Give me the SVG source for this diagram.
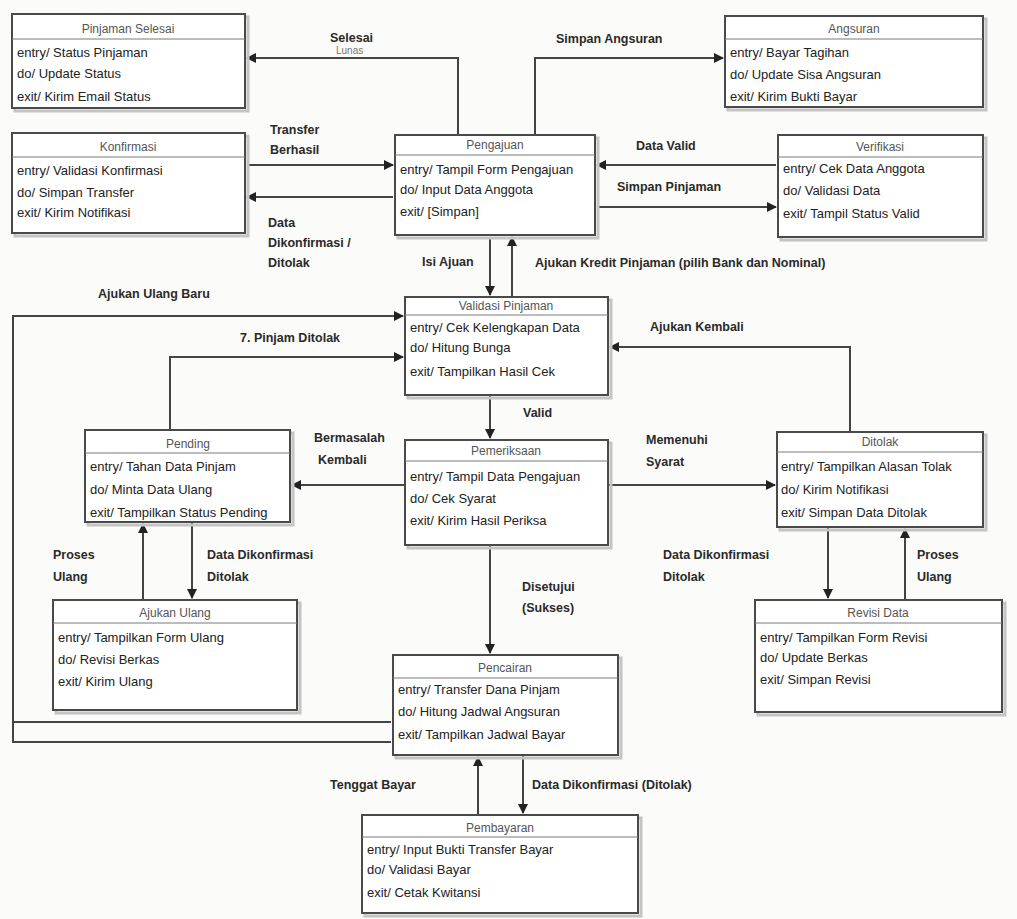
<svg xmlns="http://www.w3.org/2000/svg" width="1017" height="919" viewBox="0 0 1017 919">
  <style>
    .box { fill: #ffffff; stroke: #4a4a4a; stroke-width: 2; }
    .shadow { fill: none; stroke: #c4c4c4; stroke-width: 3; }
    .sep { stroke: #7a7a7a; stroke-width: 1.2; }
    .title { font-family: "Liberation Sans", Arial, sans-serif; font-size: 12px; fill: #555; text-anchor: middle; }
    .row { font-family: "Liberation Sans", Arial, sans-serif; font-size: 13px; fill: #222; }
    .lbl { font-family: "Liberation Sans", Arial, sans-serif; font-size: 12.5px; font-weight: bold; fill: #2a2a2a; }
    .edge { fill: none; stroke: #444; stroke-width: 2; marker-end: url(#arr); }
    .plain { fill: none; stroke: #444; stroke-width: 2; }
  </style>
  <defs>
    <marker id="arr" viewBox="0 0 10 10" refX="9" refY="5" markerWidth="5" markerHeight="5" orient="auto">
      <path d="M0,0 L10,5 L0,10 z" fill="#222"/>
    </marker>
  </defs>

  <rect x="0" y="0" width="1017" height="919" fill="#fbfbf9"/>

  <!-- connectors -->
  <g id="connectors">
    <path class="edge" d="M458,135 V58 H247"/>
    <path class="edge" d="M535,135 V58 H723"/>
    <path class="edge" d="M247,165 H393"/>
    <path class="edge" d="M393,197 H247"/>
    <path class="edge" d="M776,165 H597"/>
    <path class="edge" d="M597,207 H776"/>
    <path class="edge" d="M512,297 V237"/>
    <path class="edge" d="M490,237 V295"/>
    <path class="edge" d="M391,742 H13 V316 H403"/>
    <path class="plain" d="M391,722 H13"/>
    <path class="edge" d="M170,430 V357 H403"/>
    <path class="edge" d="M850,432 V347 H610"/>
    <path class="edge" d="M490,395 V438"/>
    <path class="edge" d="M405,485 H292"/>
    <path class="edge" d="M608,485 H775"/>
    <path class="edge" d="M192,522 V598"/>
    <path class="edge" d="M143,600 V524"/>
    <path class="edge" d="M828,527 V598"/>
    <path class="edge" d="M905,600 V529"/>
    <path class="edge" d="M490,545 V653"/>
    <path class="edge" d="M478,815 V757"/>
    <path class="edge" d="M523,755 V813"/>

    <text class="lbl" x="330" y="42">Selesai</text>
    <text class="lbl" x="336" y="54" style="font-size:10px;font-weight:normal;fill:#777">Lunas</text>
    <text class="lbl" x="556" y="43">Simpan Angsuran</text>
    <text class="lbl" x="270" y="134">Transfer</text>
    <text class="lbl" x="270" y="154">Berhasil</text>
    <text class="lbl" x="268" y="227">Data</text>
    <text class="lbl" x="268" y="247">Dikonfirmasi /</text>
    <text class="lbl" x="268" y="267">Ditolak</text>
    <text class="lbl" x="636" y="150">Data Valid</text>
    <text class="lbl" x="617" y="191">Simpan Pinjaman</text>
    <text class="lbl" x="422" y="266">Isi Ajuan</text>
    <text class="lbl" x="535" y="267">Ajukan Kredit Pinjaman (pilih Bank dan Nominal)</text>
    <text class="lbl" x="98" y="298">Ajukan Ulang Baru</text>
    <text class="lbl" x="240" y="342">7. Pinjam Ditolak</text>
    <text class="lbl" x="650" y="331">Ajukan Kembali</text>
    <text class="lbl" x="523" y="417">Valid</text>
    <text class="lbl" x="314" y="442">Bermasalah</text>
    <text class="lbl" x="318" y="464">Kembali</text>
    <text class="lbl" x="646" y="444">Memenuhi</text>
    <text class="lbl" x="646" y="466">Syarat</text>
    <text class="lbl" x="53" y="559">Proses</text>
    <text class="lbl" x="53" y="581">Ulang</text>
    <text class="lbl" x="207" y="559">Data Dikonfirmasi</text>
    <text class="lbl" x="207" y="581">Ditolak</text>
    <text class="lbl" x="663" y="559">Data Dikonfirmasi</text>
    <text class="lbl" x="663" y="581">Ditolak</text>
    <text class="lbl" x="917" y="559">Proses</text>
    <text class="lbl" x="917" y="581">Ulang</text>
    <text class="lbl" x="522" y="591">Disetujui</text>
    <text class="lbl" x="522" y="612">(Sukses)</text>
    <text class="lbl" x="330" y="789">Tenggat Bayar</text>
    <text class="lbl" x="532" y="789">Data Dikonfirmasi (Ditolak)</text>
  </g>

  <!-- states -->
  <g id="pinjaman-selesai">
    <rect class="shadow" x="15" y="17" width="233" height="94"/>
    <rect class="box" x="12" y="14" width="233" height="94"/>
    <text class="title" x="128" y="33">Pinjaman Selesai</text>
    <line class="sep" x1="12" y1="39" x2="245" y2="39"/>
    <text class="row" x="17" y="57">entry/ Status Pinjaman</text>
    <text class="row" x="17" y="78">do/ Update Status</text>
    <text class="row" x="17" y="101">exit/ Kirim Email Status</text>
  </g>

  <g id="konfirmasi">
    <rect class="shadow" x="15" y="136" width="233" height="100"/>
    <rect class="box" x="12" y="133" width="233" height="100"/>
    <text class="title" x="128" y="151">Konfirmasi</text>
    <line class="sep" x1="12" y1="157" x2="245" y2="157"/>
    <text class="row" x="17" y="175">entry/ Validasi Konfirmasi</text>
    <text class="row" x="17" y="197">do/ Simpan Transfer</text>
    <text class="row" x="17" y="217">exit/ Kirim Notifikasi</text>
  </g>

  <g id="angsuran">
    <rect class="shadow" x="728" y="19" width="258" height="91"/>
    <rect class="box" x="725" y="16" width="258" height="91"/>
    <text class="title" x="854" y="33">Angsuran</text>
    <line class="sep" x1="725" y1="39" x2="983" y2="39"/>
    <text class="row" x="730" y="57">entry/ Bayar Tagihan</text>
    <text class="row" x="730" y="79">do/ Update Sisa Angsuran</text>
    <text class="row" x="730" y="101">exit/ Kirim Bukti Bayar</text>
  </g>

  <g id="verifikasi">
    <rect class="shadow" x="781" y="138" width="205" height="102"/>
    <rect class="box" x="778" y="135" width="205" height="102"/>
    <text class="title" x="880" y="151">Verifikasi</text>
    <line class="sep" x1="778" y1="157" x2="983" y2="157"/>
    <text class="row" x="783" y="173">entry/ Cek Data Anggota</text>
    <text class="row" x="783" y="195">do/ Validasi Data</text>
    <text class="row" x="783" y="218">exit/ Tampil Status Valid</text>
  </g>

  <g id="pengajuan">
    <rect class="shadow" x="398" y="138" width="200" height="100"/>
    <rect class="box" x="395" y="135" width="200" height="100"/>
    <text class="title" x="495" y="149">Pengajuan</text>
    <line class="sep" x1="395" y1="155" x2="595" y2="155"/>
    <text class="row" x="400" y="174">entry/ Tampil Form Pengajuan</text>
    <text class="row" x="400" y="194">do/ Input Data Anggota</text>
    <text class="row" x="400" y="216">exit/ [Simpan]</text>
  </g>

  <g id="validasi-pinjaman">
    <rect class="shadow" x="408" y="300" width="203" height="98"/>
    <rect class="box" x="405" y="297" width="203" height="98"/>
    <text class="title" x="506" y="310">Validasi Pinjaman</text>
    <line class="sep" x1="405" y1="315" x2="608" y2="315"/>
    <text class="row" x="410" y="332">entry/ Cek Kelengkapan Data</text>
    <text class="row" x="410" y="352">do/ Hitung Bunga</text>
    <text class="row" x="410" y="376">exit/ Tampilkan Hasil Cek</text>
  </g>

  <g id="pemeriksaan">
    <rect class="shadow" x="408" y="443" width="203" height="105"/>
    <rect class="box" x="405" y="440" width="203" height="105"/>
    <text class="title" x="506" y="455">Pemeriksaan</text>
    <line class="sep" x1="405" y1="461" x2="608" y2="461"/>
    <text class="row" x="410" y="481">entry/ Tampil Data Pengajuan</text>
    <text class="row" x="410" y="503">do/ Cek Syarat</text>
    <text class="row" x="410" y="525">exit/ Kirim Hasil Periksa</text>
  </g>

  <g id="pending">
    <rect class="shadow" x="88" y="433" width="205" height="92"/>
    <rect class="box" x="85" y="430" width="205" height="92"/>
    <text class="title" x="188" y="448">Pending</text>
    <line class="sep" x1="85" y1="453" x2="290" y2="453"/>
    <text class="row" x="90" y="471">entry/ Tahan Data Pinjam</text>
    <text class="row" x="90" y="494">do/ Minta Data Ulang</text>
    <text class="row" x="90" y="517">exit/ Tampilkan Status Pending</text>
  </g>

  <g id="ditolak">
    <rect class="shadow" x="780" y="435" width="206" height="95"/>
    <rect class="box" x="777" y="432" width="206" height="95"/>
    <text class="title" x="880" y="446">Ditolak</text>
    <line class="sep" x1="777" y1="452" x2="983" y2="452"/>
    <text class="row" x="781" y="471">entry/ Tampilkan Alasan Tolak</text>
    <text class="row" x="781" y="494">do/ Kirim Notifikasi</text>
    <text class="row" x="781" y="517">exit/ Simpan Data Ditolak</text>
  </g>

  <g id="ajukan-ulang">
    <rect class="shadow" x="56" y="603" width="244" height="110"/>
    <rect class="box" x="53" y="600" width="244" height="110"/>
    <text class="title" x="175" y="617">Ajukan Ulang</text>
    <line class="sep" x1="53" y1="623" x2="297" y2="623"/>
    <text class="row" x="58" y="642">entry/ Tampilkan Form Ulang</text>
    <text class="row" x="58" y="664">do/ Revisi Berkas</text>
    <text class="row" x="58" y="686">exit/ Kirim Ulang</text>
  </g>

  <g id="revisi-data">
    <rect class="shadow" x="758" y="603" width="247" height="112"/>
    <rect class="box" x="755" y="600" width="247" height="112"/>
    <text class="title" x="878" y="617">Revisi Data</text>
    <line class="sep" x1="755" y1="623" x2="1002" y2="623"/>
    <text class="row" x="760" y="642">entry/ Tampilkan Form Revisi</text>
    <text class="row" x="760" y="662">do/ Update Berkas</text>
    <text class="row" x="760" y="684">exit/ Simpan Revisi</text>
  </g>

  <g id="pencairan">
    <rect class="shadow" x="396" y="658" width="225" height="100"/>
    <rect class="box" x="393" y="655" width="225" height="100"/>
    <text class="title" x="505" y="672">Pencairan</text>
    <line class="sep" x1="393" y1="678" x2="618" y2="678"/>
    <text class="row" x="398" y="694">entry/ Transfer Dana Pinjam</text>
    <text class="row" x="398" y="716">do/ Hitung Jadwal Angsuran</text>
    <text class="row" x="398" y="739">exit/ Tampilkan Jadwal Bayar</text>
  </g>

  <g id="pembayaran">
    <rect class="shadow" x="365" y="818" width="276" height="98"/>
    <rect class="box" x="362" y="815" width="276" height="98"/>
    <text class="title" x="500" y="832">Pembayaran</text>
    <line class="sep" x1="362" y1="837" x2="638" y2="837"/>
    <text class="row" x="367" y="854">entry/ Input Bukti Transfer Bayar</text>
    <text class="row" x="367" y="874">do/ Validasi Bayar</text>
    <text class="row" x="367" y="897">exit/ Cetak Kwitansi</text>
  </g>
</svg>
